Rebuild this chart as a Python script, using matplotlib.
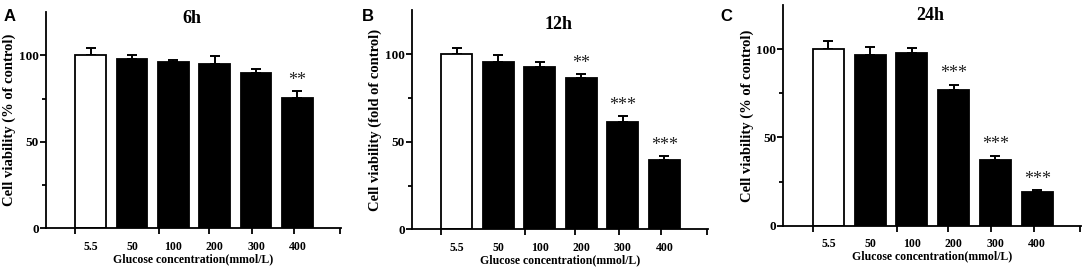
import numpy as np
import matplotlib
matplotlib.use('Agg')
import matplotlib.pyplot as plt

# glucose groups and cell viability readings (mean, SD) at three time points
conc = ['5.5', '50', '100', '200', '300', '400']
via_6h = [100, 98.1, 96.0, 95.0, 90.0, 75.1]
err_6h = [4.0, 2.0, 1.5, 4.4, 2.3, 4.2]
via_12h = [100, 95.4, 92.6, 86.3, 61.1, 39.8]
err_12h = [3.4, 3.8, 3.0, 2.3, 3.4, 2.1]
via_24h = [100, 96.8, 97.7, 77.1, 37.5, 18.9]
err_24h = [4.4, 4.5, 2.7, 2.8, 2.3, 1.2]
sig_6h = ['', '', '', '', '', '**']
sig_12h = ['', '', '', '**', '***', '***']
sig_24h = ['', '', '', '***', '***', '***']

titles = ['6h', '12h', '24h']
letters = ['A', 'B', 'C']
ylabels = ['Cell viability (% of control)', 'Cell viability (fold of control)',
           'Cell viability (% of control)']

serif = 'Liberation Serif'
plt.rcParams['font.family'] = serif
plt.rcParams['font.weight'] = 'bold'

fig = plt.figure(figsize=(10.84, 2.68), dpi=100)
boxes = [[0.0424, 0.148, 0.272, 0.807],
         [0.3798, 0.144, 0.2733, 0.818],
         [0.7226, 0.157, 0.2746, 0.825]]
title_y = [121, 117, 119]
letter_x = [0.003, 0.334, 0.665]

data = [(via_6h, err_6h, sig_6h), (via_12h, err_12h, sig_12h), (via_24h, err_24h, sig_24h)]
x = np.arange(len(conc))

for i, (vals, errs, sigs) in enumerate(data):
    ax = fig.add_axes(boxes[i])
    colors = ['white'] + ['black'] * (len(conc) - 1)
    ax.bar(x, vals, width=0.74, color=colors, edgecolor='black', linewidth=1.3, zorder=2)
    ax.errorbar(x, vals, yerr=[np.zeros(len(errs)), errs], fmt='none', ecolor='black',
                elinewidth=1.4, capsize=3.5, capthick=1.4, zorder=1)
    for xi, v, e, s in zip(x, vals, errs, sigs):
        if s:
            ax.text(xi, v + e + 6, s, ha='center', va='center', fontsize=13,
                    fontweight='normal', color='#222222')
    ax.set_xlim(-1.08, 6.05)
    ax.set_ylim(0, 125)
    ax.spines['top'].set_visible(False)
    ax.spines['right'].set_visible(False)
    ax.spines['left'].set_linewidth(1.3)
    ax.spines['bottom'].set_linewidth(1.3)
    ax.set_yticks([0, 50, 100])
    ax.set_yticks([25, 75], minor=True)
    ax.set_xticks(x)
    ax.set_xticklabels(conc, fontsize=8.5, fontweight='bold')
    ax.set_xticks([-0.37, 1.65, 2.86, 3.9, 4.92, 6.03], minor=True)
    ax.tick_params(axis='x', which='major', length=0, pad=9)
    ax.tick_params(axis='x', which='minor', direction='out', length=4, width=1.3)
    ax.tick_params(axis='y', which='major', direction='out', length=4, width=1.3,
                   labelsize=9.5, pad=1)
    ax.tick_params(axis='y', which='minor', direction='out', length=3, width=1.3)
    for lab in ax.get_yticklabels():
        lab.set_fontweight('bold')
    ax.set_xlabel('Glucose concentration(mmol/L)', fontsize=8.5, fontweight='bold', labelpad=0)
    ax.set_ylabel(ylabels[i], fontsize=10.5, fontweight='bold', labelpad=2)
    ax.text(2.45, title_y[i], titles[i], ha='center', va='center', fontsize=13,
            fontweight='bold')
    fig.text(letter_x[i], 0.92, letters[i], fontsize=12, fontweight='bold',
             family='Liberation Sans')

fig.savefig('out.png', dpi=100)
